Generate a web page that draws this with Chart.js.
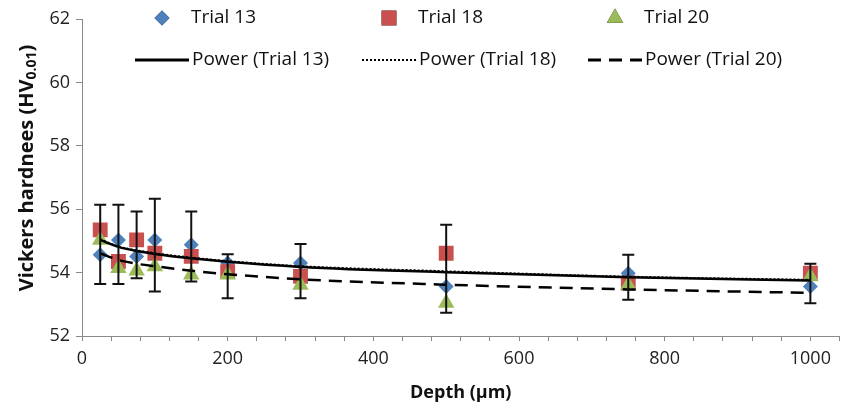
<!DOCTYPE html>
<html>
<head>
<meta charset="utf-8">
<script src="https://cdn.jsdelivr.net/npm/chart.js@4.4.0/dist/chart.umd.min.js"></script>
<style>
html,body{margin:0;padding:0;background:#fff;}
#wrap{width:850px;height:408px;}
</style>
</head>
<body>
<div id="wrap"><canvas id="hvChart"></canvas></div>
<script>
// values
var depths  = [25, 50, 75, 100, 150, 200, 300, 500, 750, 1000];
var trial13 = [54.56, 55.03, 54.51, 55.03, 54.88, 54.30, 54.30, 53.56, 53.98, 53.56];
var trial18 = [55.35, 54.35, 55.03, 54.61, 54.51, 54.03, 53.88, 54.61, 53.67, 53.98];
var trial20 = [55.03, 54.14, 54.06, 54.19, 53.93, 53.93, 53.61, 53.04, 53.61, 53.88];
var power13 = [55.03, 54.81, 54.68, 54.59, 54.45, 54.34, 54.18, 54.01, 53.85, 53.75];
var power18 = [55.05, 54.83, 54.71, 54.62, 54.48, 54.37, 54.21, 54.05, 53.88, 53.78];
var power20 = [54.61, 54.40, 54.28, 54.20, 54.06, 53.95, 53.79, 53.62, 53.47, 53.36];
var errHigh = [56.14, 56.14, 55.93, 56.33, 55.93, 54.58, 54.90, 55.51, 54.56, 54.28];
var errLow  = [53.64, 53.64, 53.82, 53.40, 53.72, 53.19, 53.19, 52.73, 53.14, 53.03];
var yMin = 52, yMax = 62, yStep = 2;
var xMin = 0, xMax = 1040, xStep = 40, xLabelStep = 200;

function pts(ys) {
    return depths.map(function (d, i) { return {x: d, y: ys[i]}; });
}

var font = '"Open Sans", "Noto Sans", sans-serif';

// error bars, drawn over the markers
var errorBars = {
    id: 'errorBars',
    afterDatasetsDraw: function (chart) {
        var ctx = chart.ctx, xs = chart.scales.x, ys = chart.scales.y;
        ctx.save();
        ctx.strokeStyle = '#111';
        ctx.lineWidth = 2;
        depths.forEach(function (d, i) {
            var px = xs.getPixelForValue(d);
            var top = ys.getPixelForValue(errHigh[i]);
            var bot = ys.getPixelForValue(errLow[i]);
            ctx.beginPath();
            ctx.moveTo(px, top); ctx.lineTo(px, bot);
            ctx.moveTo(px - 6, top); ctx.lineTo(px + 6, top);
            ctx.moveTo(px - 6, bot); ctx.lineTo(px + 6, bot);
            ctx.stroke();
        });
        ctx.restore();
    }
};

// excel style legend (3 columns x 2 rows) and y title with subscript
var extras = {
    id: 'extras',
    afterDraw: function (chart) {
        var ctx = chart.ctx;
        var cols = [135, 362, 588];
        var ds = chart.data.datasets;
        ctx.save();
        ctx.font = '19px ' + font;
        ctx.fillStyle = '#111';
        ctx.textBaseline = 'middle';
        // row 1 : markers
        [0, 1, 2].forEach(function (k) {
            var d = ds[k];
            Chart.helpers.drawPoint(ctx, {
                pointStyle: d.pointStyle, radius: d.pointRadius, borderWidth: 0
            }, cols[k] + 27, 18);
            ctx.fillStyle = d.backgroundColor;
            ctx.fill();
            ctx.fillStyle = '#111';
            ctx.fillText(d.label, cols[k] + 56, 18);
        });
        // row 2 : trend lines
        [3, 4, 5].forEach(function (k, j) {
            var d = ds[k];
            ctx.beginPath();
            ctx.setLineDash(d.borderDash || []);
            ctx.lineWidth = d.borderWidth + 0.5;
            ctx.strokeStyle = d.borderColor;
            ctx.moveTo(cols[j], 60); ctx.lineTo(cols[j] + 54, 60);
            ctx.stroke();
            ctx.setLineDash([]);
            ctx.fillText(d.label, cols[j] + 57, 60);
        });
        // y axis title
        ctx.translate(27, 168);
        ctx.rotate(-Math.PI / 2);
        var big = 'bold 20px ' + font, small = 'bold 14px ' + font;
        var parts = [['Vickers hardnees (HV', big, 0], ['0.01', small, 5], [')', big, 0]];
        var total = 0;
        parts.forEach(function (p) { ctx.font = p[1]; total += ctx.measureText(p[0]).width; });
        var x = -total / 2;
        ctx.textAlign = 'left';
        parts.forEach(function (p) {
            ctx.font = p[1];
            ctx.fillText(p[0], x, p[2]);
            x += ctx.measureText(p[0]).width;
        });
        ctx.restore();
    }
};

var hvChart = new Chart(document.getElementById('hvChart'), {
    type: 'scatter',
    data: {
        datasets: [
            {label: 'Trial 13', data: pts(trial13), pointStyle: 'rectRot', pointRadius: 7.5,
             backgroundColor: '#4F81BD', borderWidth: 0, order: 9},
            {label: 'Trial 18', data: pts(trial18), pointStyle: 'rect', pointRadius: 10.5,
             backgroundColor: '#C9504E', borderWidth: 0, order: 8},
            {label: 'Trial 20', data: pts(trial20), pointStyle: 'triangle', pointRadius: 9.5,
             backgroundColor: '#9BBB59', borderWidth: 0, order: 7},
            {label: 'Power (Trial 13)', data: pts(power13), showLine: true, pointRadius: 0,
             borderColor: '#000', borderWidth: 2.5, cubicInterpolationMode: 'monotone', order: 3},
            {label: 'Power (Trial 18)', data: pts(power18), showLine: true, pointRadius: 0,
             borderColor: '#000', borderWidth: 1.5, borderDash: [2, 2], cubicInterpolationMode: 'monotone', order: 2},
            {label: 'Power (Trial 20)', data: pts(power20), showLine: true, pointRadius: 0,
             borderColor: '#000', borderWidth: 2.5, borderDash: [13, 8], cubicInterpolationMode: 'monotone', order: 1}
        ]
    },
    options: {
        responsive: true,
        maintainAspectRatio: false,
        animation: false,
        layout: {padding: {left: 0, right: 9, top: 19, bottom: 0}},
        plugins: {legend: {display: false}, tooltip: {enabled: false}},
        scales: {
            x: {
                type: 'linear', min: xMin, max: xMax,
                afterFit: function (s) { s.height = 72; },
                ticks: {
                    stepSize: xStep, autoSkip: false, maxRotation: 0, minRotation: 0,
                    color: '#222', padding: 7, font: {family: font, size: 18},
                    callback: function (v) { return v % xLabelStep === 0 ? v : ''; }
                },
                grid: {drawOnChartArea: false, drawTicks: true, tickLength: 5, color: '#8a8a8a'},
                border: {color: '#8a8a8a', width: 1},
                title: {display: true, text: 'Depth (µm)', color: '#111',
                        font: {family: font, size: 18, weight: 'bold'}, padding: {top: 0, bottom: 4}}
            },
            y: {
                min: yMin, max: yMax,
                afterFit: function (s) { s.width = 82; },
                ticks: {stepSize: yStep, color: '#222', padding: 6, font: {family: font, size: 18}},
                grid: {drawOnChartArea: false, drawTicks: true, tickLength: 6, color: '#8a8a8a'},
                border: {color: '#8a8a8a', width: 1}
            }
        }
    },
    plugins: [errorBars, extras]
});
</script>
</body>
</html>
